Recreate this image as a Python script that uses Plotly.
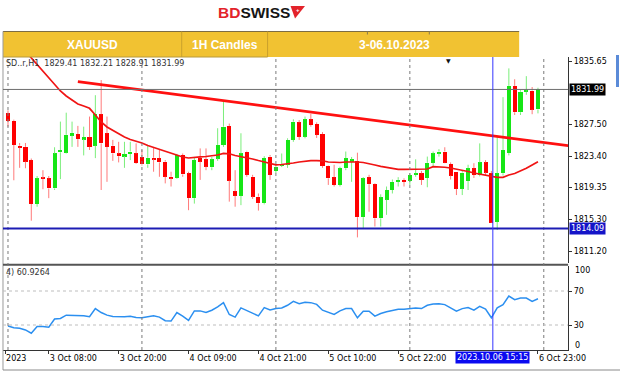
import plotly.graph_objects as go

# ---------------- data ----------------
opens = [1828.9, 1827.95, 1824.75, 1824.6, 1822.9, 1817.25, 1820.6, 1820.55, 1819.25, 1823.9,
         1823.85, 1826.05, 1826.25, 1825.6, 1825.85, 1824.75, 1828.8, 1826.35, 1824.75, 1823.75,
         1823.4, 1823.7, 1823.75, 1823.35, 1822.35, 1823.2, 1823.15, 1822.7, 1820.75, 1820.6,
         1823.55, 1821.2, 1818.0, 1823.15, 1823.0, 1821.97, 1823.1, 1824.85, 1827.3, 1818.9,
         1818.3, 1824.0, 1820.75, 1818.2, 1817.35, 1823.35, 1821.5, 1822.2, 1822.3, 1825.5,
         1827.75, 1825.9, 1828.15, 1827.55, 1826.25, 1822.15, 1820.7, 1819.7, 1821.85, 1822.75,
         1822.8, 1815.55, 1820.7, 1819.8, 1815.4, 1817.8, 1819.05, 1820.1, 1820.35, 1820.25,
         1821.0, 1821.2, 1820.6, 1822.55, 1823.75, 1824.0, 1822.4, 1821.4, 1819.2, 1820.2,
         1821.85, 1821.0, 1822.6, 1821.2, 1814.95, 1821.2, 1823.8, 1832.45, 1829.05, 1831.7,
         1831.85, 1829.41]
highs = [1829.3, 1828.1, 1825.1, 1825.1, 1823.1, 1820.85, 1821.6, 1820.85, 1824.55, 1827.85,
         1829.0, 1827.85, 1827.3, 1827.2, 1828.5, 1831.25, 1833.2, 1828.5, 1825.5, 1825.25,
         1825.25, 1825.25, 1825.05, 1824.2, 1824.85, 1824.45, 1824.2, 1822.9, 1821.4, 1823.7,
         1823.75, 1821.4, 1823.3, 1824.4, 1824.4, 1823.3, 1827.0, 1830.4, 1827.6, 1821.6,
         1826.35, 1824.1, 1821.0, 1818.6, 1823.4, 1823.55, 1822.3, 1823.75, 1825.7, 1828.15,
         1828.05, 1828.5, 1828.85, 1827.75, 1826.5, 1822.2, 1822.3, 1822.05, 1824.0, 1823.3,
         1823.85, 1820.7, 1821.0, 1819.9, 1818.5, 1819.5, 1820.4, 1820.7, 1820.55, 1821.2,
         1823.0, 1821.5, 1823.35, 1824.0, 1824.3, 1824.55, 1822.6, 1821.4, 1821.6, 1822.3,
         1822.5, 1825.05, 1822.9, 1821.5, 1825.9, 1831.0, 1834.7, 1833.3, 1831.9, 1833.7,
         1832.3, 1832.21]
lows = [1827.2, 1820.3, 1821.9, 1821.85, 1815.1, 1816.9, 1819.15, 1818.0, 1819.05, 1820.45,
        1823.75, 1824.6, 1824.6, 1823.5, 1824.2, 1823.15, 1819.05, 1820.1, 1822.8, 1822.6,
        1821.9, 1822.9, 1822.4, 1822.2, 1821.9, 1821.4, 1820.75, 1819.9, 1819.5, 1820.5,
        1820.75, 1816.45, 1817.3, 1820.35, 1821.6, 1821.6, 1822.8, 1824.6, 1817.55, 1816.9,
        1817.1, 1820.75, 1817.9, 1816.4, 1817.2, 1820.35, 1821.2, 1822.0, 1821.9, 1825.25,
        1825.5, 1825.7, 1827.2, 1825.75, 1821.9, 1819.7, 1819.5, 1819.5, 1821.6, 1820.1,
        1812.95, 1814.1, 1816.25, 1814.35, 1814.35, 1815.85, 1818.6, 1819.5, 1819.5, 1819.7,
        1820.75, 1819.7, 1819.4, 1822.0, 1823.35, 1822.5, 1820.4, 1818.4, 1818.4, 1819.05,
        1820.6, 1820.8, 1820.9, 1814.8, 1813.9, 1820.9, 1823.5, 1828.7, 1828.7, 1831.3,
        1828.8, 1828.91]
closes = [1827.95, 1824.85, 1824.5, 1822.7, 1817.25, 1820.55, 1820.5, 1819.25, 1823.75, 1824.2,
          1826.15, 1826.4, 1825.6, 1825.85, 1824.6, 1828.8, 1825.05, 1824.6, 1823.75, 1823.4,
          1823.65, 1824.0, 1822.5, 1822.35, 1823.2, 1823.0, 1822.6, 1820.75, 1820.55, 1823.55,
          1821.05, 1818.0, 1822.9, 1822.7, 1822.05, 1823.0, 1824.85, 1827.2, 1820.25, 1818.3,
          1823.75, 1821.0, 1818.2, 1817.35, 1823.15, 1821.0, 1822.05, 1822.4, 1825.5, 1827.85,
          1825.9, 1828.15, 1827.4, 1826.15, 1822.15, 1820.55, 1819.7, 1821.85, 1823.15, 1823.0,
          1815.55, 1820.55, 1819.8, 1815.4, 1818.1, 1819.05, 1820.1, 1820.35, 1820.1, 1821.0,
          1821.2, 1820.35, 1822.55, 1823.75, 1824.0, 1822.55, 1820.9, 1819.2, 1821.3, 1821.85,
          1821.0, 1822.6, 1821.3, 1814.85, 1821.2, 1824.2, 1832.45, 1829.05, 1831.7, 1831.85,
          1829.4, 1831.99]

# moving average (red curve); None where it is above the visible range
ma = [None, None, None, 1836.9, 1836.04, 1835.26, 1834.36, 1833.46, 1832.56, 1831.79,
      1831.15, 1830.63, 1830.12, 1829.86, 1829.56, 1828.7, 1827.8, 1827.16, 1826.7, 1826.25,
      1825.87, 1825.55, 1825.35, 1825.1, 1824.77, 1824.52, 1824.26, 1824.0, 1823.71, 1823.49,
      1823.3, 1823.17, 1823.19, 1823.3, 1823.36, 1823.42, 1823.55, 1823.75, 1823.71, 1823.49,
      1823.36, 1823.23, 1823.04, 1822.84, 1822.65, 1822.46, 1822.29, 1822.33, 1822.39, 1822.52,
      1822.65, 1822.78, 1822.84, 1822.84, 1822.81, 1822.65, 1822.59, 1822.59, 1822.65, 1822.68,
      1822.65, 1822.59, 1822.46, 1822.27, 1822.1, 1821.94, 1821.82, 1821.71, 1821.71, 1821.71,
      1821.71, 1821.71, 1821.75, 1822.05, 1822.05, 1821.98, 1821.88, 1821.75, 1821.62, 1821.43,
      1821.24, 1821.11, 1820.91, 1820.76, 1820.68, 1820.68, 1820.98, 1821.17, 1821.49, 1821.84,
      1822.27, 1822.69]

rsi = [28.8, 26.9, 26.1, 24.2, 20.3, 28.1, 28.1, 27.3, 37.0, 37.7,
       41.6, 41.6, 40.8, 40.8, 39.7, 49.3, 44.7, 41.6, 40.0, 39.7,
       39.7, 40.4, 38.9, 38.5, 39.7, 40.8, 39.3, 35.0, 34.6, 44.7,
       40.4, 35.4, 46.6, 46.6, 44.7, 47.4, 51.3, 56.3, 42.4, 39.3,
       50.1, 47.0, 43.1, 40.8, 50.5, 47.8, 49.3, 50.1, 53.2, 57.8,
       55.1, 56.7, 56.3, 54.3, 47.4, 44.7, 42.4, 46.6, 49.3, 49.3,
       38.5, 46.2, 46.2, 40.4, 43.5, 45.5, 47.4, 48.6, 48.6, 49.3,
       50.1, 49.3, 53.2, 54.7, 55.1, 54.0, 50.1, 46.2, 49.3, 50.5,
       47.4, 52.0, 48.6, 38.5, 50.1, 54.0, 64.0, 59.8, 61.7, 61.7,
       57.8, 60.93]

bars = list(range(len(opens)))

trend_x = [12.0, 96.2]
trend_y = [1833.0, 1824.75]

support_level = 1814.09
bid_level = 1831.99
cursor_bar = 83.25
cursor_label = "2023.10.06 15:15"
day_starts = [0, 23, 46, 69, 92]

price_ticks = [1835.65, 1827.50, 1823.40, 1819.35, 1815.30, 1811.20]
time_tick_bars = [-0.5, 7, 19, 31, 43, 55, 67, 91]
time_tick_text = ["2023", "3 Oct 08:00", "3 Oct 20:00", "4 Oct 09:00", "4 Oct 21:00",
                  "5 Oct 10:00", "5 Oct 22:00", "6 Oct 23:00"]
rsi_ticks = [30, 70]
ohlc_text = "SD..r,H1  1829.41 1832.21 1828.91 1831.99"
rsi_text = "4) 60.9264"

# ---------------- styling helpers ----------------
W, H = 624, 375          # reference pixel grid used for placing layout elements
FW, FH = 640, 375        # rendered figure size
def px(x):
    return x / W
def py(y):
    return 1 - y / H

UP, DN = "#16e616", "#ff0000"
UPW, DNW = "#7aee7a", "#ff7a7a"

base = [min(o, c) for o, c in zip(opens, closes)]
height = [max(abs(c - o), 0.14) for o, c in zip(opens, closes)]
bcol = [UP if c >= o else DN for o, c in zip(opens, closes)]

wx = {UP: [], DN: []}
wy = {UP: [], DN: []}
for i, o, h, l, c in zip(bars, opens, highs, lows, closes):
    k = UP if c >= o else DN
    top, bot = max(o, c), min(o, c)
    wx[k] += [i, i, None, i, i, None]
    wy[k] += [h, top, None, bot, l, None]

fig = go.Figure()
fig.add_trace(go.Scatter(x=wx[UP], y=wy[UP], mode="lines", line=dict(color=UPW, width=1),
                         hoverinfo="skip", showlegend=False, xaxis="x", yaxis="y"))
fig.add_trace(go.Scatter(x=wx[DN], y=wy[DN], mode="lines", line=dict(color=DNW, width=1),
                         hoverinfo="skip", showlegend=False, xaxis="x", yaxis="y"))
fig.add_trace(go.Bar(x=bars, y=height, base=base, width=0.7, marker=dict(color=bcol, line=dict(width=0)),
                     showlegend=False, xaxis="x", yaxis="y"))
fig.add_trace(go.Scatter(x=bars, y=ma, mode="lines", line=dict(color="#f01414", width=1.7),
                         showlegend=False, xaxis="x", yaxis="y"))
fig.add_trace(go.Scatter(x=trend_x, y=trend_y, mode="lines", line=dict(color="#ff1010", width=2.6),
                         showlegend=False, xaxis="x", yaxis="y"))
fig.add_trace(go.Scatter(x=bars, y=rsi, mode="lines", line=dict(color="#2b8ff0", width=1.5),
                         showlegend=False, xaxis="x2", yaxis="y2"))

ppu = (251 - 61) / (1835.65 - 1811.20)
y_top = 1835.65 + (61 - 57) / ppu
y_bot = 1811.20 - (263 - 251) / ppu
bpx = 70 / 12.0
x_lo = (3 - 8) / bpx
x_hi = (569 - 8) / bpx
rpu = (325 - 291) / 40.0
r_top = 70 + (291 - 266) / rpu
r_bot = 30 - (350 - 325) / rpu

axfont = dict(family="DejaVu Sans", size=8, color="#000")
fig.update_layout(
    width=FW, height=FH, autosize=False, margin=dict(l=0, r=0, t=0, b=0, pad=0),
    paper_bgcolor="white", plot_bgcolor="white", font=axfont,
    showlegend=False, bargap=0,
    xaxis=dict(domain=[px(3), px(569)], range=[x_lo, x_hi], anchor="y", showgrid=False,
               zeroline=False, showticklabels=False, ticks="", showline=False),
    yaxis=dict(domain=[py(263), py(57)], range=[y_bot, y_top], anchor="x", side="right",
               showgrid=False, zeroline=False, showline=True, linecolor="#333", linewidth=1,
               ticks="outside", ticklen=3, tickcolor="#333", tickvals=price_ticks,
               ticktext=["%.2f" % v for v in price_ticks], tickfont=axfont),
    xaxis2=dict(domain=[px(3), px(569)], range=[x_lo, x_hi], anchor="y2", matches="x",
                showgrid=False, zeroline=False, showline=True, linecolor="#333", linewidth=1,
                ticks="outside", ticklen=3, tickcolor="#333", tickvals=time_tick_bars,
                ticktext=time_tick_text, ticklabelposition="outside right", tickfont=axfont),
    yaxis2=dict(domain=[py(350), py(266)], range=[r_bot, r_top], anchor="x2", side="right",
                showgrid=False, zeroline=False, showline=True, linecolor="#333", linewidth=1,
                ticks="outside", ticklen=3, tickcolor="#333", tickvals=rsi_ticks,
                ticktext=[str(v) for v in rsi_ticks], tickfont=axfont),
)

shapes = []
shapes.append(dict(type="rect", xref="paper", yref="paper", x0=px(3), x1=px(520), y0=py(57), y1=py(31.5),
                   fillcolor="#f1c232", line=dict(width=0), layer="below"))
shapes.append(dict(type="line", xref="paper", yref="paper", x0=px(3), x1=px(520), y0=py(31.5), y1=py(31.5),
                   line=dict(color="#7c6c44", width=1)))
for xd in (182, 268):
    shapes.append(dict(type="line", xref="paper", yref="paper", x0=px(xd), x1=px(xd), y0=py(57), y1=py(31.5),
                       line=dict(color="#c9a12c", width=1)))
for xd in (368, 430):
    shapes.append(dict(type="line", xref="paper", yref="paper", x0=px(xd), x1=px(xd), y0=py(34.5), y1=py(31.5),
                       line=dict(color="#8a7a50", width=1)))
shapes.append(dict(type="line", xref="paper", yref="paper", x0=px(3), x1=px(268), y0=py(57), y1=py(57),
                   line=dict(color="#b89a3a", width=1)))
shapes.append(dict(type="line", xref="paper", yref="paper", x0=px(3), x1=px(3), y0=py(370), y1=py(31.5),
                   line=dict(color="#9a9a9a", width=1)))
shapes.append(dict(type="line", xref="paper", yref="paper", x0=px(3), x1=px(621), y0=py(370), y1=py(370),
                   line=dict(color="#8a8a8a", width=1)))
shapes.append(dict(type="line", xref="paper", yref="paper", x0=px(3), x1=px(569), y0=py(264.8), y1=py(264.8),
                   line=dict(color="#555", width=2)))
shapes.append(dict(type="rect", xref="paper", yref="paper", x0=px(617), x1=px(620), y0=py(87), y1=py(55),
                   fillcolor="#5b8bd8", line=dict(width=0)))
shapes.append(dict(type="path", xref="paper", yref="paper",
                   path="M %f %f L %f %f L %f %f Z" % (px(291), py(6), px(305.5), py(6), px(295.5), py(18.5)),
                   fillcolor="#e3232b", line=dict(width=0)))
for d in day_starts:
    shapes.append(dict(type="line", xref="x", yref="paper", x0=d, x1=d, y0=py(350), y1=py(57),
                       line=dict(color="#7a7a7a", width=1, dash="dot")))
for lv in rsi_ticks:
    shapes.append(dict(type="line", xref="paper", yref="y2", x0=px(3), x1=px(569), y0=lv, y1=lv,
                       line=dict(color="#bdbdbd", width=1, dash="dot")))
shapes.append(dict(type="line", xref="paper", yref="y", x0=px(3), x1=px(569), y0=bid_level, y1=bid_level,
                   line=dict(color="#6e6e6e", width=1)))
shapes.append(dict(type="line", xref="paper", yref="y", x0=px(3), x1=px(569), y0=support_level, y1=support_level,
                   line=dict(color="#1c1cb4", width=2)))
shapes.append(dict(type="line", xref="x", yref="paper", x0=cursor_bar, x1=cursor_bar, y0=py(350), y1=py(57),
                   line=dict(color="#3535ff", width=1)))
fig.update_layout(shapes=shapes)

ann = []
def note(x, y, text, font, xanchor="center", yanchor="middle", xref="paper", yref="paper", **kw):
    d = dict(xref=xref, yref=yref, x=x, y=y, text=text, showarrow=False, font=font,
             xanchor=xanchor, yanchor=yanchor)
    d.update(kw)
    ann.append(d)

note(px(254), py(13), "<b><span style='color:#e3232b'>BD</span><span style='color:#151515'>SWISS</span></b>",
     dict(family="Liberation Sans", size=15.5))
note(px(298.5), py(10), "<b>+</b>", dict(family="Liberation Sans", size=6, color="white"))
for label, xc in (("XAUUSD", 93), ("1H Candles", 225), ("3-06.10.2023", 395)):
    note(px(xc), py(44.5), "<b>%s</b>" % label, dict(family="Liberation Sans", size=12, color="white"))
note(px(4), py(63), ohlc_text, dict(family="DejaVu Sans", size=8, color="#333"), xanchor="left")
note(px(4), py(272), rsi_text, dict(family="DejaVu Sans", size=8, color="#333"), xanchor="left")
note(px(570), bid_level, "%.2f" % bid_level, dict(family="DejaVu Sans", size=8, color="white"),
     xanchor="left", yref="y", bgcolor="#000", borderpad=1)
note(px(570), support_level, "%.2f" % support_level, dict(family="DejaVu Sans", size=8, color="white"),
     xanchor="left", yref="y", bgcolor="#1414c8", borderpad=1)
note(cursor_bar, py(357.5), cursor_label, dict(family="DejaVu Sans", size=8, color="white"),
     xref="x2", bgcolor="#0a0af0", borderpad=1)
note(px(574), py(270), "100", axfont, xanchor="left")
note(px(574), py(345.5), "0", axfont, xanchor="left")
note(px(449), py(60), "▼", dict(family="DejaVu Sans", size=6, color="#111"))
fig.update_layout(annotations=ann)

fig.write_html("out.html",
               config={"displayModeBar": False, "responsive": False},
               post_script="document.body.style.margin='0';document.body.style.padding='0';"
                           "document.documentElement.style.overflow='hidden';"
                           "document.body.style.overflow='hidden';")
